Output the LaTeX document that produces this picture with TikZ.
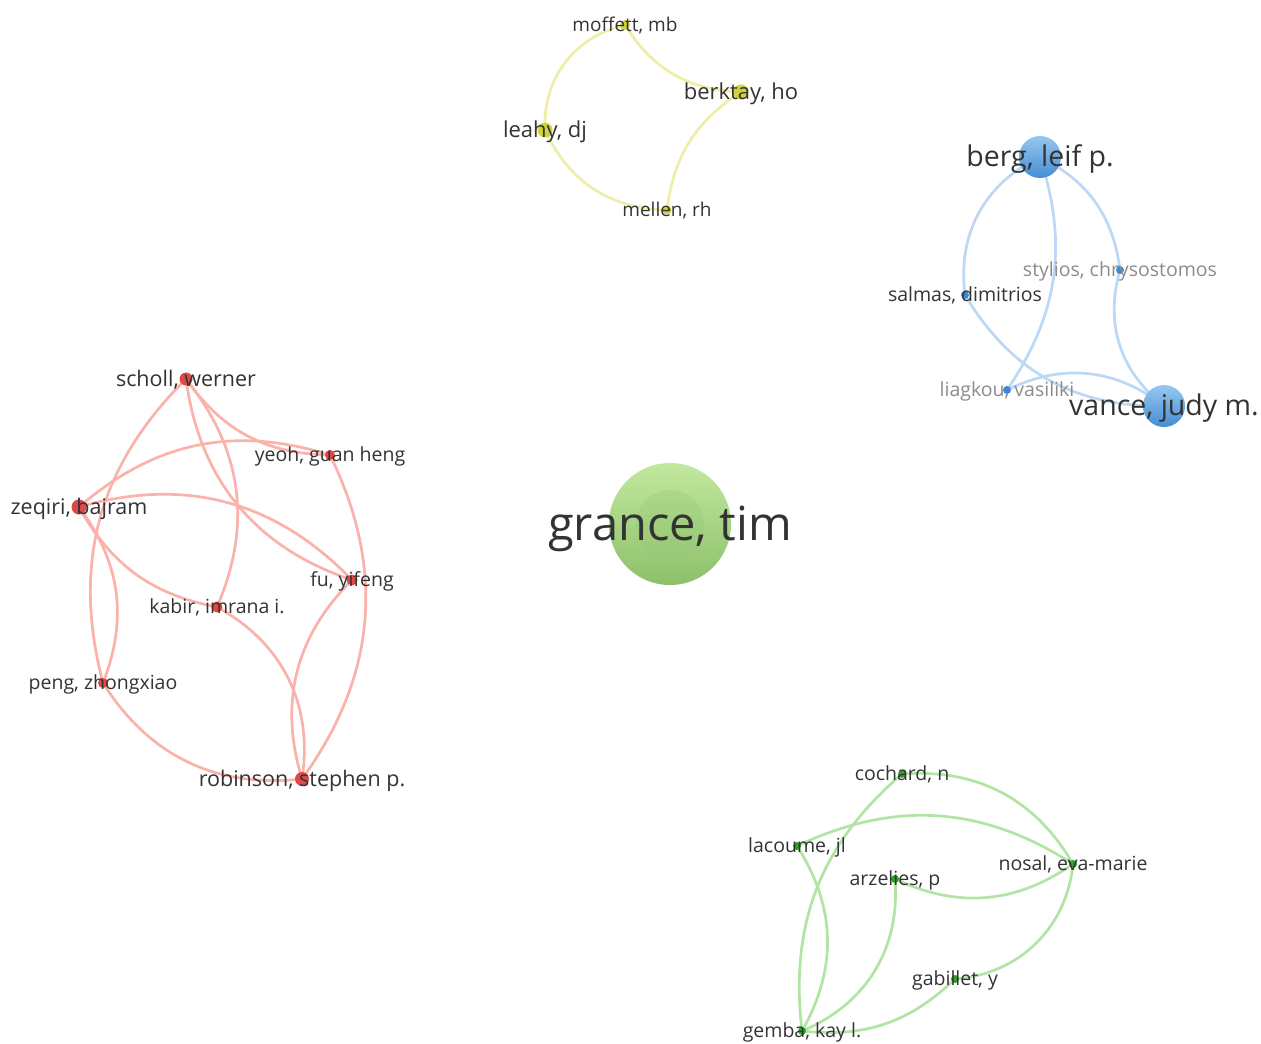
\documentclass[tikz,border=0pt]{standalone}
\usepackage{fontspec}
\setmainfont{Open Sans}
\pgfdeclarelayer{edges}
\pgfsetlayers{edges,main}
\definecolor{txt}{HTML}{333333}
\definecolor{faint}{HTML}{8C8C8C}
\definecolor{yelN}{HTML}{D2D23A}
\definecolor{yelE}{HTML}{EEEEA8}
\definecolor{redN}{HTML}{E04848}
\definecolor{redE}{HTML}{FAB2AA}
\definecolor{grnN}{HTML}{2FA02A}
\definecolor{grnE}{HTML}{B2E4A4}
\definecolor{bluN}{HTML}{3C8AD4}
\definecolor{bluE}{HTML}{BCD8F4}
\begin{document}
\begin{tikzpicture}[x=1pt,y=1pt,
  dot/.style={circle, inner sep=0pt, minimum size=#1},
  lbl/.style={inner sep=0pt, text=txt, anchor=base},
  fs/.style={font=\fontsize{#1}{#1}\selectfont, yshift={-0.35*#1}},
  yedge/.style={draw=yelE, line width=2.7pt},
  redge/.style={draw=redE, line width=2.7pt},
  gedge/.style={draw=grnE, line width=2.7pt},
  bedge/.style={draw=bluE, line width=2.7pt},
]
\useasboundingbox (0,0) rectangle (1261,-1044);

% ---------- central author ----------
\node[dot=122, top color={rgb,255:red,194;green,232;blue,158}, bottom color={rgb,255:red,140;green,192;blue,106}]
      (grance) at (670,-524) {};
\fill[color={rgb,255:red,150;green,198;blue,118}, opacity=0.3] (grance.center) circle (34);
\node[lbl, fs=47] at (grance) {grance, tim};

% ---------- yellow cluster ----------
\node[dot=10, fill=yelN] (moffett) at (625,-25) {};
\node[dot=15, fill=yelN] (berktay) at (741,-92) {};
\node[dot=15, fill=yelN] (leahy) at (545,-130) {};
\node[dot=9, fill=yelN] (mellen) at (667,-210) {};
\node[lbl, fs=19] at (moffett) {moffett, mb};
\node[lbl, fs=22] at (berktay) {berktay, ho};
\node[lbl, fs=22] at (leahy) {leahy, dj};
\node[lbl, fs=19] at (mellen) {mellen, rh};

% ---------- blue cluster ----------
\node[dot=42, top color={rgb,255:red,150;green,200;blue,240}, bottom color={rgb,255:red,70;green,140;blue,210}] (berg) at (1040,-157) {};
\node[dot=42, top color={rgb,255:red,150;green,200;blue,240}, bottom color={rgb,255:red,70;green,140;blue,210}] (vance) at (1164,-406) {};
\node[dot=8, fill=bluN] (stylios) at (1120,-270) {};
\node[dot=8, fill=bluN] (salmas) at (965,-295) {};
\node[dot=8, fill=bluN] (liagkou) at (1007,-390) {};
\node[lbl, fs=28.5] at (berg) {berg, leif p.};
\node[lbl, fs=28.5] at (vance) {vance, judy m.};
\node[lbl, fs=19.5, text=faint] at (stylios) {stylios, chrysostomos};
\node[lbl, fs=19.5] at (salmas) {salmas, dimitrios};
\node[lbl, fs=19.5, text=faint] at (liagkou) {liagkou, vasiliki};

% ---------- red cluster ----------
\node[dot=13, fill=redN] (scholl) at (186,-379) {};
\node[dot=10, fill=redN] (yeoh) at (330,-455) {};
\node[dot=15, fill=redN] (zeqiri) at (79,-507) {};
\node[dot=11, fill=redN] (fu) at (352,-580) {};
\node[dot=11, fill=redN] (kabir) at (217,-607) {};
\node[dot=10, fill=redN] (peng) at (103,-683) {};
\node[dot=14, fill=redN] (robinson) at (302,-779) {};
\node[lbl, fs=21.5] at (scholl) {scholl, werner};
\node[lbl, fs=19.5] at (yeoh) {yeoh, guan heng};
\node[lbl, fs=21.5] at (zeqiri) {zeqiri, bajram};
\node[lbl, fs=19.5] at (fu) {fu, yifeng};
\node[lbl, fs=19.5] at (kabir) {kabir, imrana i.};
\node[lbl, fs=19.5] at (peng) {peng, zhongxiao};
\node[lbl, fs=21.5] at (robinson) {robinson, stephen p.};

% ---------- green cluster ----------
\node[dot=8, fill=grnN] (cochard) at (902,-774) {};
\node[dot=8, fill=grnN] (lacoume) at (797,-846) {};
\node[dot=8, fill=grnN] (nosal) at (1073,-864) {};
\node[dot=8, fill=grnN] (arzelies) at (895,-879) {};
\node[dot=8, fill=grnN] (gabillet) at (955,-979) {};
\node[dot=8, fill=grnN] (gemba) at (802,-1031) {};
\node[lbl, fs=19.5] at (cochard) {cochard, n};
\node[lbl, fs=19.5] at (lacoume) {lacoume, jl};
\node[lbl, fs=19.5] at (nosal) {nosal, eva-marie};
\node[lbl, fs=19.5] at (arzelies) {arzelies, p};
\node[lbl, fs=19.5] at (gabillet) {gabillet, y};
\node[lbl, fs=19.5] at (gemba) {gemba, kay l.};

% ---------- links (below the nodes) ----------
\begin{pgfonlayer}{edges}
  \fill[white] (0,0) rectangle (1261,-1044);

  \draw[yedge] (moffett.center) to[bend right=40] (leahy.center);
  \draw[yedge] (moffett.center) to[bend right=28] (berktay.center);
  \draw[yedge] (berktay.center) to[bend right=25] (mellen.center);
  \draw[yedge] (leahy.center) to[bend right=32] (mellen.center);

  \draw[bedge] (berg.center) to[bend right=36] (salmas.center);
  \draw[bedge] (berg.center) to[bend left=26] (liagkou.center);
  \draw[bedge] (berg.center) to[bend left=28] (stylios.center);
  \draw[bedge] (stylios.center) to[bend right=34] (vance.center);
  \draw[bedge] (salmas.center) to[bend right=30] (vance.center);
  \draw[bedge] (liagkou.center) to[bend left=32] (vance.center);

  \draw[redge] (scholl.center) to[bend right=27] (yeoh.center);
  \draw[redge] (scholl.center) to[bend right=32] (fu.center);
  \draw[redge] (scholl.center) to[bend left=31] (kabir.center);
  \draw[redge] (scholl.center) to[bend right=30] (peng.center);
  \draw[redge] (zeqiri.center) to[bend left=29] (yeoh.center);
  \draw[redge] (zeqiri.center) to[bend left=31] (fu.center);
  \draw[redge] (zeqiri.center) to[bend right=25] (kabir.center);
  \draw[redge] (zeqiri.center) to[bend left=29] (peng.center);
  \draw[redge] (yeoh.center) to[bend left=31] (robinson.center);
  \draw[redge] (fu.center) to[bend right=31] (robinson.center);
  \draw[redge] (kabir.center) to[bend left=35] (robinson.center);
  \draw[redge] (peng.center) to[bend right=32] (robinson.center);

  \draw[gedge] (cochard.center) to[bend left=32] (nosal.center);
  \draw[gedge] (cochard.center) to[bend right=28] (gemba.center);
  \draw[gedge] (lacoume.center) to[bend left=29] (nosal.center);
  \draw[gedge] (lacoume.center) to[bend left=31] (gemba.center);
  \draw[gedge] (arzelies.center) to[bend right=30] (nosal.center);
  \draw[gedge] (arzelies.center) to[bend left=36] (gemba.center);
  \draw[gedge] (nosal.center) to[bend left=40] (gabillet.center);
  \draw[gedge] (gabillet.center) to[bend left=25] (gemba.center);
\end{pgfonlayer}
\end{tikzpicture}
\end{document}
